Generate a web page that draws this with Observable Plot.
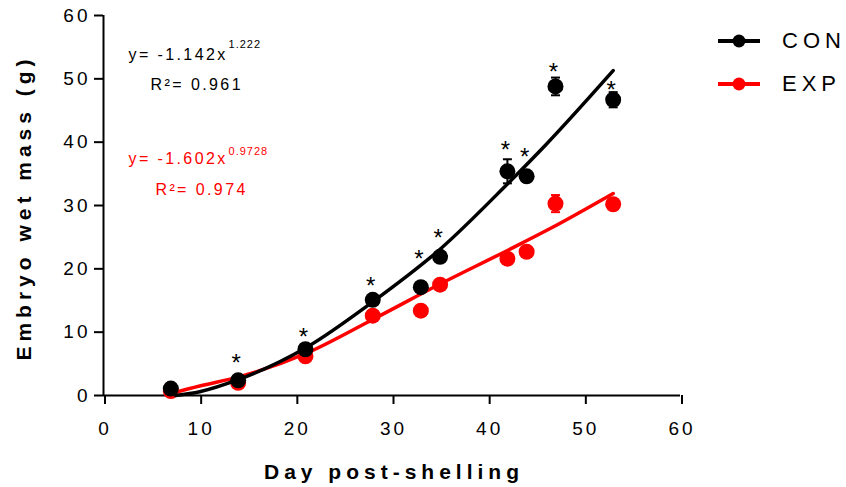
<!DOCTYPE html>
<html><head><meta charset="utf-8">
<script src="https://cdn.jsdelivr.net/npm/d3@7"></script>
<script src="https://cdn.jsdelivr.net/npm/@observablehq/plot@0.6"></script>
<style>
body{margin:0;background:#fff;}
#wrap{position:relative;width:846px;height:487px;font-family:Arial,"Liberation Sans",sans-serif;}
#wrap svg{font-family:Arial,"Liberation Sans",sans-serif;}
g[aria-label="x-axis tick label"] text, g[aria-label="y-axis tick label"] text{letter-spacing:3px;font-size:19px;}
.leg{position:absolute;left:718px;height:20px;display:flex;align-items:center;}
.leg span{margin-left:22px;font-size:22px;letter-spacing:5px;color:#000;}
</style></head>
<body><div id="wrap"></div>
<script>
const days = [7, 14, 21, 28, 33, 35, 42, 44, 47, 53];
const conMass = [1.1, 2.4, 7.3, 15.1, 17.1, 21.9, 35.4, 34.6, 48.8, 46.7];
const conSem = [0.3, 0.4, 0.5, 0.6, 0.6, 0.7, 1.9, 0.8, 1.4, 1.2];
const expMass = [0.7, 2.0, 6.2, 12.6, 13.4, 17.5, 21.6, 22.7, 30.3, 30.2];
const expSem = [0.3, 0.3, 0.4, 0.5, 0.5, 0.6, 0.7, 0.7, 1.35, 0.8];
const starDays = [14, 21, 28, 33, 35, 42, 44, 47, 53];
const starLevel = [6.0, 10.1, 18.1, 22.4, 25.7, 39.5, 38.4, 51.8, 49.1];
const conFitDays = [7.5, 10, 14, 21, 28, 35, 42, 46, 53];
const conFitMass = [0, 0.6, 2.5, 7.5, 14.8, 23.1, 33.4, 39.6, 51.3];
const expFitDays = [7, 10, 14, 21, 28, 35, 42, 46.5, 53];
const expFitMass = [0.3, 1.5, 2.9, 6.6, 12.0, 17.6, 22.9, 26.4, 31.9];
const xTicks = [0, 10, 20, 30, 40, 50, 60];
const yTicks = [0, 10, 20, 30, 40, 50, 60];
const seriesNames = ["CON", "EXP"];
const seriesColors = ["#000000", "#ff0000"];
const xTitle = "Day post-shelling";
const yTitle = "Embryo wet mass (g)";
const eqMain = ["y= -1.142x", "y= -1.602x"];
const eqPow = ["1.222", "0.9728"];
const eqR2 = ["R\u00b2= 0.961", "R\u00b2= 0.974"];

const con = days.map((d, i) => ({day: d, mass: conMass[i], sem: conSem[i]}));
const exp = days.map((d, i) => ({day: d, mass: expMass[i], sem: expSem[i]}));
const conFit = conFitDays.map((d, i) => ({day: d, mass: conFitMass[i]}));
const expFit = expFitDays.map((d, i) => ({day: d, mass: expFitMass[i]}));
const stars = starDays.map((d, i) => ({day: d, level: starLevel[i]}));

const cap = {draw(ctx, size) { const r = Math.sqrt(size / Math.PI); ctx.moveTo(-r, 0); ctx.lineTo(r, 0); }};

function seriesMarks(data, fit, color) {
  return [
    Plot.line(fit, {x: "day", y: "mass", stroke: color, strokeWidth: 3.5, curve: "monotone-x"}),
    Plot.ruleX(data, {x: "day", y1: d => d.mass - d.sem, y2: d => d.mass + d.sem, stroke: color, strokeWidth: 2}),
    Plot.dot(data, {x: "day", y: d => d.mass + d.sem, symbol: cap, r: 4.5, stroke: color, strokeWidth: 2, fill: "none"}),
    Plot.dot(data, {x: "day", y: d => d.mass - d.sem, symbol: cap, r: 4.5, stroke: color, strokeWidth: 2, fill: "none"}),
    Plot.dot(data, {x: "day", y: "mass", r: 8, fill: color, stroke: "none"})
  ];
}

const chart = Plot.plot({
  width: 846, height: 487,
  marginLeft: 103, marginRight: 166, marginTop: 15, marginBottom: 92,
  style: {background: "white", color: "black", fontFamily: "Arial, 'Liberation Sans', sans-serif"},
  x: {domain: [0, 60]},
  y: {domain: [0, 60]},
  marks: [
    Plot.axisX({ticks: xTicks, tickSize: 9, tickPadding: 17, strokeWidth: 2, fontSize: 19, label: null, dx: 1.5}),
    Plot.axisY({ticks: yTicks, tickSize: 9, tickPadding: 4, strokeWidth: 2, fontSize: 19, label: null}),
    Plot.ruleY([0], {strokeWidth: 2}),
    Plot.ruleX([0], {strokeWidth: 2}),
    ...seriesMarks(exp, expFit, seriesColors[1]),
    ...seriesMarks(con, conFit, seriesColors[0]),
    Plot.text(stars, {x: "day", y: "level", text: () => "*", fontSize: 24, lineAnchor: "bottom", dy: 13, dx: -2, fill: "black"}),
    Plot.text([eqMain[0]], {x: 2.6, y: 53.05, textAnchor: "start", lineAnchor: "bottom", fontSize: 16, fill: "black"}),
    Plot.text([eqPow[0]], {x: 13.0, y: 54.8, textAnchor: "start", lineAnchor: "bottom", fontSize: 11, fill: "black"}),
    Plot.text([eqR2[0]], {x: 4.9, y: 48.3, textAnchor: "start", lineAnchor: "bottom", fontSize: 16, fill: "black"}),
    Plot.text([eqMain[1]], {x: 2.6, y: 36.6, textAnchor: "start", lineAnchor: "bottom", fontSize: 16, fill: "#ff0000"}),
    Plot.text([eqPow[1]], {x: 13.0, y: 38.05, textAnchor: "start", lineAnchor: "bottom", fontSize: 11, fill: "#ff0000"}),
    Plot.text([eqR2[1]], {x: 5.4, y: 31.7, textAnchor: "start", lineAnchor: "bottom", fontSize: 16, fill: "#ff0000"}),
    Plot.text([xTitle], {frameAnchor: "bottom", textAnchor: "middle", dy: 83, dx: 2, lineAnchor: "bottom", fontSize: 21, fontWeight: "bold", fill: "black"}),
    Plot.text([yTitle], {frameAnchor: "left", textAnchor: "middle", rotate: -90, dx: -73, dy: 2, lineAnchor: "bottom", fontSize: 21, fontWeight: "bold", fill: "black"})
  ]
});
const wrap = document.getElementById("wrap");
wrap.appendChild(chart);

const spacing = new Map([[xTitle, "5px"], [yTitle, "5px"], [eqMain[0], "2.4px"], [eqMain[1], "2.4px"], [eqR2[0], "2.4px"], [eqR2[1], "2.4px"], [eqPow[0], "1px"], [eqPow[1], "1px"]]);
d3.select(chart).selectAll("text").each(function () {
  const s = spacing.get(this.textContent);
  if (s) this.style.letterSpacing = s;
});

seriesNames.forEach((name, i) => {
  const row = document.createElement("div");
  row.className = "leg";
  row.style.top = (i === 0 ? 31 : 74) + "px";
  const c = seriesColors[i];
  row.innerHTML = `<svg width="42" height="20"><line x1="0" x2="42" y1="10" y2="10" stroke="${c}" stroke-width="4"/><circle cx="21" cy="10" r="6.5" fill="${c}"/></svg><span>${name}</span>`;
  wrap.appendChild(row);
});
</script></body></html>
